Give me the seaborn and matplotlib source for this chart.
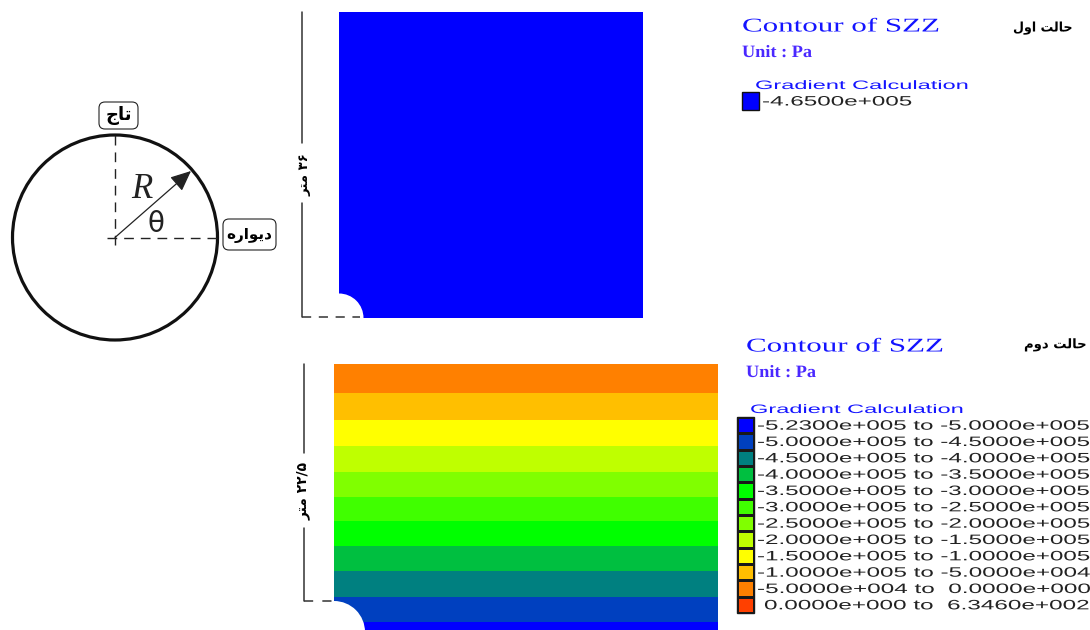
import numpy as np
import matplotlib
matplotlib.use("Agg")
import matplotlib.pyplot as plt
import matplotlib.patheffects as pe
from matplotlib.colors import ListedColormap, BoundaryNorm
from matplotlib.patches import Circle, FancyBboxPatch, Rectangle
from matplotlib.transforms import Affine2D
import seaborn as sns

# ---- data ----
levels = [-5.23e5, -5.0e5, -4.5e5, -4.0e5, -3.5e5, -3.0e5, -2.5e5, -2.0e5,
          -1.5e5, -1.0e5, -5.0e4, 0.0, 634.6]
level_colors = ["#0000FF", "#0040BF", "#008080", "#00BF40", "#00FF00", "#40FF00",
                "#80FF00", "#BFFF00", "#FFFF00", "#FFBF00", "#FF8000", "#FF4000"]
legend_labels = ["-5.2300e+005 to -5.0000e+005", "-5.0000e+005 to -4.5000e+005",
                 "-4.5000e+005 to -4.0000e+005", "-4.0000e+005 to -3.5000e+005",
                 "-3.5000e+005 to -3.0000e+005", "-3.0000e+005 to -2.5000e+005",
                 "-2.5000e+005 to -2.0000e+005", "-2.0000e+005 to -1.5000e+005",
                 "-1.5000e+005 to -1.0000e+005", "-1.0000e+005 to -5.0000e+004",
                 "-5.0000e+004 to  0.0000e+000", "0.0000e+000 to  6.3460e+002"]
case1_stress = -4.65e5
case1_color = "#0000FF"
case1_label = "-4.6500e+005"
# depth (m below the top of the model) of the lower edge of each stress band, case 2
band_bottoms_m = [2.7, 5.3, 7.8, 10.2, 12.6, 14.9, 17.2, 19.6, 22.1, 24.4, 25.2]
band_level_index = [10, 9, 8, 7, 6, 5, 4, 3, 2, 1, 0]

# Persian labels, in visual order with presentation forms (matplotlib does no shaping)
crown = "\uFE9D\uFE8E\uFE97"
wall = "\uFEE9\uFEAD\uFE8D\uFEEE\uFBFE\uFEA9"
case1_title = "\uFEDD\uFEED\uFE8D \uFE96\uFEDF\uFE8E\uFEA3"
case2_title = "\uFEE1\uFEED\uFEA9 \uFE96\uFEDF\uFE8E\uFEA3"
metre = "\uFEAE\uFE98\uFEE3"
dim1 = metre + " \u06F3\u06F6"
dim2 = metre + " \u06F2\u06F2/\u06F5"

# ---- figure ----
sns.set_theme(style="white")
plt.rcParams["font.family"] = ["Liberation Sans", "DejaVu Sans"]
W, H = 1090, 630
fig = plt.figure(figsize=(W / 100, H / 100), dpi=100, facecolor="white")
cmap = ListedColormap(level_colors)
norm = BoundaryNorm(levels, cmap.N)
mids = [(a + b) / 2 for a, b in zip(levels[:-1], levels[1:])]
cmap1 = ListedColormap([case1_color])


def px_axes(x0, y0, x1, y1, **kw):
    return fig.add_axes([x0 / W, 1 - y1 / H, (x1 - x0) / W, (y1 - y0) / H], **kw)


def heat(ax, data, **kw):
    kw.setdefault("cmap", cmap)
    if kw["cmap"] is cmap:
        kw["norm"] = norm
    sns.heatmap(data, ax=ax, cbar=False, xticklabels=False, yticklabels=False, **kw)
    ax.set_xlabel("")
    ax.set_ylabel("")


# contour panels
heat(px_axes(339, 12, 643, 318), np.array([[case1_stress]]), cmap=cmap1)
step = 0.05
depth = np.arange(step / 2, band_bottoms_m[-1], step)
rows = np.searchsorted(band_bottoms_m, depth)
band_vals = np.array([mids[band_level_index[min(r, 10)]] for r in rows])[:, None]
heat(px_axes(334, 364, 718, 630), band_vals)

# legend swatches
heat(px_axes(742, 92, 759, 110), np.array([[case1_stress]]), cmap=cmap1)
heat(px_axes(737, 417, 754, 613), np.array(mids)[:, None], linewidths=1.0, linecolor="#1a1a1a")

# overlay in pixel coordinates
ax = fig.add_axes([0, 0, 1, 1], facecolor="none", zorder=5)
ax.set_xlim(0, W)
ax.set_ylim(H, 0)
ax.axis("off")
r = fig.canvas.get_renderer()

ax.add_patch(Rectangle((742, 92), 17, 18, fc="none", ec="#111111", lw=1.0))
ax.add_patch(Rectangle((737, 417), 17, 196, fc="none", ec="#1a1a1a", lw=1.0))


class Stretch(pe.AbstractPathEffect):
    def __init__(self, x0, sx):
        super().__init__()
        self.x0, self.sx = x0, sx

    def draw_path(self, renderer, gc, tpath, affine, rgbFace=None):
        a = affine + Affine2D().translate(-self.x0, 0).scale(self.sx, 1).translate(self.x0, 0)
        renderer.draw_path(gc, tpath, a, rgbFace)


def wide(x0, x1, y, s, size, color, **kw):
    t = ax.text(x0, y, s, fontsize=size, color=color, ha="left", va="center", **kw)
    w = t.get_window_extent(r).width
    t.set_path_effects([Stretch(x0, (x1 - x0) / w)])
    return t


BLUE = "#1414FF"
VIOLET = "#4A28FF"
INK = "#222222"
wide(742, 941, 27, "Contour of SZZ", 14, BLUE, family="Liberation Serif")
wide(742, 812, 53, "Unit : Pa", 12.5, VIOLET, family="Liberation Serif", fontweight="bold")
wide(755, 971, 86, "Gradient Calculation", 8.8, BLUE)
wide(762, 912, 101.5, case1_label, 9.8, INK)
wide(746, 945, 347, "Contour of SZZ", 14, BLUE, family="Liberation Serif")
wide(746, 816, 373, "Unit : Pa", 12.5, VIOLET, family="Liberation Serif", fontweight="bold")
wide(750, 966, 410, "Gradient Calculation", 8.8, BLUE)
row_h = (613 - 417) / len(legend_labels)
for i, lab in enumerate(legend_labels):
    x0 = 757 if lab[0] == "-" else 764
    x1 = 1089 if i < 11 else 1088
    wide(x0, x1, 417.5 + row_h * (i + 0.5), lab, 9.8, INK)

fa = dict(family="DejaVu Sans", fontweight="bold", color="black")
wide(1013, 1073, 28, case1_title, 9.5, "black", family="DejaVu Sans", fontweight="bold")
wide(1024, 1087, 345, case2_title, 9.5, "black", family="DejaVu Sans", fontweight="bold")

# notches of the tunnel
ax.add_patch(Circle((339, 318), 24.5, fc="white", ec="none"))
ax.add_patch(Circle((334, 632), 31, fc="white", ec="none"))

# dimension lines
dim_kw = dict(color="#333333", lw=1.1)
ax.plot([302, 302], [12, 143], **dim_kw)
ax.plot([302, 302], [203, 317], **dim_kw)
ax.plot([302, 360], [317, 317], ls=(0, (6, 5)), **dim_kw)
ax.plot([304, 304], [364, 453], **dim_kw)
ax.plot([304, 304], [528, 601], **dim_kw)
ax.plot([304, 333], [601, 601], ls=(0, (6, 6)), **dim_kw)
ax.text(305, 175, dim1, rotation=90, ha="center", va="center", fontsize=9.5, **fa)
ax.text(304, 491, dim2, rotation=90, ha="center", va="center", fontsize=10, **fa)

# tunnel sketch
cx, cy, rad = 115, 237.5, 102.5
ax.add_patch(Circle((cx, cy), rad, fc="none", ec="#111111", lw=2.3))
dash = dict(color="#222222", lw=1.0, ls=(0, (7, 5)))
ax.plot([cx, cx], [cy + 7, cy - rad], **dash)
ax.plot([cx - 8, cx + rad], [cy, cy], **dash)
ax.annotate("", xy=(191, 171), xytext=(cx, cy),
            arrowprops=dict(arrowstyle="-|>,head_length=0.9,head_width=0.4", color="#222222",
                            mutation_scale=14, lw=0.9, shrinkA=0, shrinkB=0))
ax.text(142, 190, "R", family="Liberation Serif", style="italic", fontsize=25, color="#222222",
        ha="center", va="center")
ax.text(156, 224, "\u03b8", family="DejaVu Sans", fontsize=20, color="#222222",
        ha="center", va="center")
for (x0, y0, x1, y1, s, sz, dy) in [(99, 102, 138, 129, crown, 13, 1), (223, 219, 276, 250, wall, 11, 2)]:
    ax.add_patch(FancyBboxPatch((x0 + 4, y0 + 4), x1 - x0 - 8, y1 - y0 - 8,
                                boxstyle="round,pad=4,rounding_size=6", fc="white",
                                ec="#222222", lw=0.8, zorder=6))
    ax.text((x0 + x1) / 2, (y0 + y1) / 2 + dy - 1, s, ha="center", va="center", fontsize=sz, zorder=7,
            family="DejaVu Sans", fontweight="bold", color="black")

fig.savefig("out.png", dpi=100, facecolor="white")
